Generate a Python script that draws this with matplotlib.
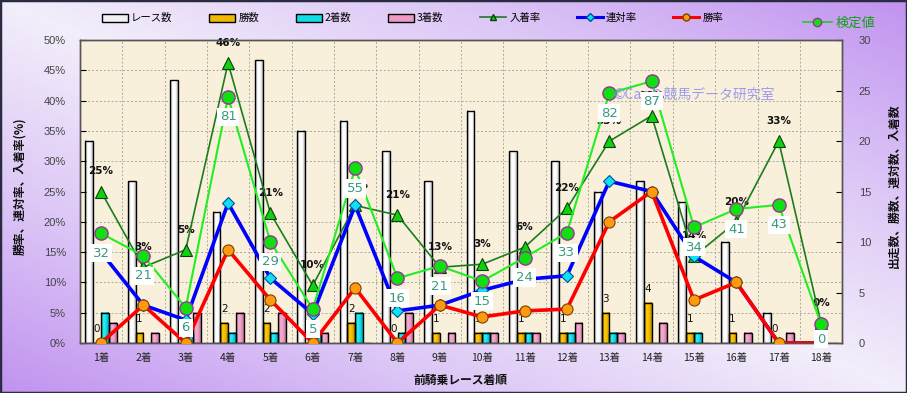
import numpy as np
import matplotlib
matplotlib.use("Agg")
import matplotlib.pyplot as plt
from matplotlib.colors import LinearSegmentedColormap
from matplotlib.lines import Line2D
from matplotlib.patches import Patch, Rectangle
from matplotlib.ticker import MultipleLocator, FuncFormatter

plt.rcParams['font.family'] = ['Noto Sans CJK JP', 'DejaVu Sans']

# data
categories = [f"{i}着" for i in range(1, 19)]
races   = [20, 16, 26, 13, 28, 21, 22, 19, 16, 23, 19, 18, 15, 16, 14, 10, 3, 0]
wins    = [0, 1, 0, 2, 2, 0, 2, 0, 1, 1, 1, 1, 3, 4, 1, 1, 0, 0]
seconds = [3, 0, 1, 1, 1, 1, 3, 1, 0, 1, 1, 1, 1, 0, 1, 0, 0, 0]
thirds  = [2, 1, 3, 3, 3, 1, 0, 3, 1, 1, 1, 2, 1, 2, 0, 1, 1, 0]

place_rate = [25, 12.5, 15.4, 46.2, 21.4, 9.5, 22.7, 21.1, 12.5, 13.0, 15.8, 22.2,
              33.3, 37.5, 14.3, 20.0, 33.3, 3.3]
# labels as they appear on the chart
place_labels = ["25%", "3%", "5%", "46%", "21%", "10%", "23%", "21%", "13%", "3%",
                "6%", "22%", "33%", "38%", "14%", "20%", "33%", "0%"]
rentai_rate = [15.0, 6.25, 3.8, 23.1, 10.7, 4.8, 22.7, 5.3, 6.25, 8.7, 10.5, 11.1,
               26.7, 25.0, 14.3, 10.0, 0, 0]
win_rate = [0, 6.25, 0, 15.4, 7.1, 0, 9.1, 0, 6.25, 4.3, 5.3, 5.6, 20.0, 25.0, 7.1, 10.0, 0, 0]
kentei_pos = [18.1, 14.4, 5.8, 40.6, 16.7, 5.6, 28.8, 10.7, 12.7, 10.2, 14.1, 18.2,
              41.2, 43.2, 19.1, 22.1, 22.8, 3.1]
kentei_labels = [32, 21, 6, 81, 29, 5, 55, 16, 21, 15, 24, 33, 82, 87, 34, 41, 43, 0]

x = np.arange(len(categories))

fig = plt.figure(figsize=(9.07, 3.93), dpi=100)

# background gradient of the figure
bg = fig.add_axes([0, 0, 1, 1], zorder=-10)
u = np.linspace(0, 1, 300)
v = np.linspace(0, 1, 130)
U, V = np.meshgrid(u, v)
bg_cmap = LinearSegmentedColormap.from_list("bg", ["#f3eefb", "#dcc6f6", "#c193f0"])
bg.imshow(np.abs(U - V), cmap=bg_cmap, aspect="auto", extent=(0, 1, 0, 1), origin="upper")
bg.axis("off")
fig.patches.append(Rectangle((0, 0), 1, 1, transform=fig.transFigure, fill=False,
                             edgecolor="#2a2a40", linewidth=2.5))

ax_cnt = fig.add_axes([0.088, 0.1272, 0.8406, 0.771])
ax_rate = ax_cnt.twinx()
ax_cnt.set_facecolor("#f9f0dc")
ax_rate.patch.set_visible(False)

# bars with a cylinder-like gradient
bar_w = 0.183
bar_specs = [
    (races, -0.275, ["#9a9a9a", "#ffffff", "#ffffff", "#b8b8b8"]),
    (wins, -0.092, ["#a87800", "#ffcc10", "#f0b800", "#b88800"]),
    (seconds, 0.092, ["#009aa0", "#30f0f8", "#10dce4", "#00a8b0"]),
    (thirds, 0.275, ["#b86890", "#f4b0d0", "#ec9cc4", "#c07098"]),
]
for vals, off, cols in bar_specs:
    cm = LinearSegmentedColormap.from_list("b", cols)
    grad = np.linspace(0, 1, 32).reshape(1, -1)
    for xi, h in zip(x, vals):
        if h <= 0:
            continue
        ax_cnt.imshow(grad, cmap=cm, aspect="auto", zorder=2,
                      extent=(xi + off - bar_w / 2, xi + off + bar_w / 2, 0, h))
    ax_cnt.bar(x + off, vals, width=bar_w, facecolor="none", edgecolor="black",
               linewidth=1.0, zorder=2.2)

# win count labels above the gold bars
for xi, w in zip(x, wins):
    ax_cnt.annotate(str(w), xy=(xi - 0.092, w), xytext=(0, 10), textcoords="offset points",
                    ha="center", va="center", fontsize=7.5, color="#111111", zorder=3,
                    family=["DejaVu Sans"])

# lines
ax_rate.plot(x, place_rate, color="#1c7c1c", lw=1.2, marker="^", ms=8.5,
             mfc="#10d010", mec="#0a400a", mew=0.8, zorder=3)
ax_rate.plot(x, rentai_rate, color="#0000ff", lw=2.6, marker="D", ms=6,
             mfc="#10e0f0", mec="#0050a0", mew=0.8, zorder=4)
ax_rate.plot(x, win_rate, color="#ff0000", lw=2.6, marker="o", ms=8,
             mfc="#ff9a10", mec="#7a4000", mew=0.8, zorder=5)
ax_rate.plot(x, kentei_pos, color="#22ee22", lw=1.5, marker="o", ms=9.5,
             mfc="#10e010", mec="#993399", mew=1.0, zorder=6)

# place-rate labels
for xi, v_, s in zip(x, place_rate, place_labels):
    ax_rate.annotate(s, xy=(xi, v_), xytext=(0, 14.5), textcoords="offset points",
                     ha="center", va="center", fontsize=7.5, fontweight="bold",
                     color="#111111", zorder=2, family=["DejaVu Sans"])

# test-value labels (kept inside the plot area near the bottom)
px_per_pct = 303 / 50
for xi, v_, s in zip(x, kentei_pos, kentei_labels):
    off_px = min(20, (v_ - 0.66) * px_per_pct)
    ax_rate.annotate(str(s), xy=(xi, v_), xytext=(0, -off_px * 0.72), textcoords="offset points",
                     ha="center", va="center", fontsize=9.5, color="#3a9a7c", zorder=10,
                     family=["DejaVu Sans"],
                     bbox=dict(boxstyle="square,pad=0.2", fc="white", ec="none"))

# watermark
ax_rate.text(0.70, 0.82, "©Caoり競馬データ研究室", transform=ax_rate.transAxes,
             fontsize=10, color="#8c8cf0", alpha=0.85, ha="left", va="center", zorder=7)

# axes, ticks, grid
ax_cnt.set_xlim(-0.5, len(categories) - 0.5)
ax_cnt.set_ylim(0, 30)
ax_rate.set_ylim(0, 50)
ax_cnt.set_xticks(x)
ax_cnt.set_xticklabels(categories, fontsize=7.5, color="#222222")
ax_cnt.set_xticks(np.arange(-0.5, len(categories), 1), minor=True)
ax_cnt.tick_params(axis="x", which="both", length=0, pad=7)

ax_cnt.yaxis.tick_right()
ax_cnt.yaxis.set_major_locator(MultipleLocator(5))
ax_cnt.yaxis.set_minor_locator(MultipleLocator(3))
ax_cnt.tick_params(axis="y", which="major", direction="in", length=4, pad=12,
                   labelsize=8, labelcolor="#444444", right=True, left=False)
ax_cnt.tick_params(axis="y", which="minor", length=0)
for lab in ax_cnt.get_yticklabels():
    lab.set_family(["Liberation Sans"])

ax_rate.yaxis.tick_left()
ax_rate.yaxis.set_major_locator(MultipleLocator(5))
ax_rate.yaxis.set_major_formatter(FuncFormatter(lambda val, pos: f"{val:.0f}%"))
ax_rate.tick_params(axis="y", direction="in", length=4, pad=10, labelsize=8,
                    labelcolor="#444444", left=True, right=False)
for lab in ax_rate.get_yticklabels():
    lab.set_family(["Liberation Sans"])

ax_cnt.grid(which="minor", axis="both", color="#a8a8a0", linestyle=(0, (2, 2)), lw=0.7)
ax_cnt.set_axisbelow(True)
for sp in list(ax_cnt.spines.values()) + list(ax_rate.spines.values()):
    sp.set_color("#555555")
    sp.set_linewidth(1.0)

# axis titles
fig.text(0.5075, 0.033, "前騎乗レース着順", ha="center", va="center", fontsize=8.5,
         fontweight="bold", color="#111111")
fig.text(0.022, 0.527, "勝率、連対率、入着率(%)", ha="center", va="center", rotation=90,
         fontsize=8.5, fontweight="bold", color="#111111")
fig.text(0.986, 0.527, "出走数、勝数、連対数、入着数", ha="center", va="center", rotation=90,
         fontsize=8.5, fontweight="bold", color="#111111")

# legends
handles = [
    Patch(facecolor="#f0f0f0", edgecolor="black", label="レース数"),
    Patch(facecolor="#f0b800", edgecolor="black", label="勝数"),
    Patch(facecolor="#10dce4", edgecolor="black", label="2着数"),
    Patch(facecolor="#ec9cc4", edgecolor="black", label="3着数"),
    Line2D([], [], color="#1c7c1c", lw=1.2, marker="^", ms=5, mfc="#10d010",
           mec="#0a400a", label="入着率"),
    Line2D([], [], color="#0000ff", lw=2.2, marker="D", ms=4, mfc="#10e0f0",
           mec="#0050a0", label="連対率"),
    Line2D([], [], color="#ff0000", lw=2.2, marker="o", ms=5, mfc="#ff9a10",
           mec="#7a4000", label="勝率"),
]
fig.legend(handles=handles, loc="center", bbox_to_anchor=(0.455, 0.954), ncol=7,
           frameon=False, fontsize=7.5, handlelength=2.5, handleheight=0.8,
           handletextpad=0.3, columnspacing=3.5)
leg2 = fig.legend(handles=[Line2D([], [], color="#22cc22", lw=1.2, marker="o", ms=6,
                                  mfc="#10e010", mec="#993399", label="検定値")],
                  loc="center", bbox_to_anchor=(0.925, 0.94), frameon=False,
                  fontsize=9.5, handlelength=2.2, handletextpad=0.3)
for t in leg2.get_texts():
    t.set_color("#10a010")

fig.savefig("out.png", dpi=100)
